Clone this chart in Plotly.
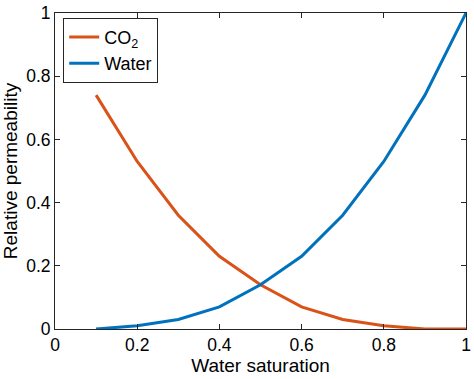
import plotly.graph_objects as go

sw = [0.1, 0.2, 0.3, 0.4, 0.5, 0.6, 0.7, 0.8, 0.9, 1.0]
kr_co2 = [0.74, 0.53, 0.36, 0.23, 0.14, 0.07, 0.03, 0.01, 0.0, 0.0]
kr_water = [0.0, 0.01, 0.03, 0.07, 0.14, 0.23, 0.36, 0.53, 0.74, 1.0]
xticks = [0, 0.2, 0.4, 0.6, 0.8, 1]
xticklabels = ["0", "0.2", "0.4", "0.6", "0.8", "1"]

FONT = "Liberation Sans, Arial, Helvetica, sans-serif"

fig = go.Figure()
fig.add_trace(go.Scatter(x=sw, y=kr_co2, mode="lines", name="CO<sub>2</sub>",
                         line=dict(color="#D95319", width=3)))
fig.add_trace(go.Scatter(x=sw, y=kr_water, mode="lines", name="Water",
                         line=dict(color="#0072BD", width=3)))

axis_common = dict(showgrid=False, zeroline=False, showline=True, linecolor="#262626",
                   linewidth=1, mirror="ticks", ticks="inside", ticklen=5,
                   tickcolor="#262626", ticklabeloverflow="allow",
                   tickfont=dict(size=17.5, color="#000", family=FONT))
fig.update_xaxes(range=[0, 1], tickvals=xticks, ticktext=xticklabels,
                 title=dict(text="Water saturation", font=dict(size=19, color="#000", family=FONT), standoff=4),
                 **axis_common)
fig.update_yaxes(range=[0, 1], tickvals=xticks, ticktext=xticklabels,
                 title=dict(text="Relative permeability", font=dict(size=19, color="#000", family=FONT), standoff=4),
                 **axis_common)

fig.update_layout(
    width=474, height=379,
    margin=dict(l=55, r=3, t=10, b=50),
    paper_bgcolor="white", plot_bgcolor="white",
    font=dict(family=FONT, color="#000"),
    showlegend=True,
    legend=dict(x=0.02, y=0.985, xanchor="left", yanchor="top",
                bgcolor="white", bordercolor="#262626", borderwidth=1,
                font=dict(size=18, family=FONT), itemwidth=30),
)

fig.write_html("out.html", config={"displayModeBar": False},
               post_script="document.body.style.margin='0';document.body.style.padding='0';")
